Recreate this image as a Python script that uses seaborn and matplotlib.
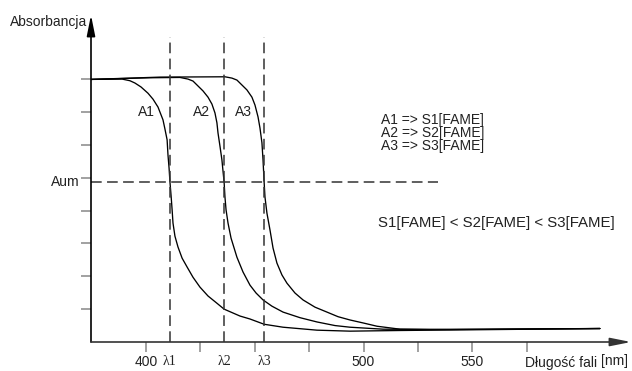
import matplotlib
matplotlib.use('Agg')
import matplotlib.pyplot as plt
import seaborn as sns
import pandas as pd

# curves: wavelength [nm] / absorbance (arbitrary units)
wl_a1 = [374.7, 389.0, 392.6, 394.9, 397.7, 400.9, 403.2, 405.5, 407.8, 408.7, 409.7,
         410.1, 410.6, 411.0, 411.5, 412.0, 412.4, 413.3, 414.7, 416.6, 418.9, 421.6,
         424.8, 428.5, 432.6, 435.9, 443.2, 447.8, 454.3, 463.0, 478.6, 493.8, 516.8,
         562.8, 608.7]
abs_a1 = [7.99, 8.00, 7.95, 7.88, 7.76, 7.57, 7.39, 7.15, 6.76, 6.48, 6.15,
          5.69, 5.29, 4.87, 4.47, 4.02, 3.62, 3.22, 2.89, 2.55, 2.28, 1.97,
          1.67, 1.40, 1.18, 1.00, 0.79, 0.70, 0.54, 0.45, 0.36, 0.33, 0.35,
          0.38, 0.41]

wl_a2 = [374.7, 401.8, 415.6, 419.3, 421.6, 423.9, 426.2, 428.5, 430.3, 431.7, 432.6,
         433.1, 434.0, 434.9, 435.4, 435.9, 436.3, 436.8, 437.7, 439.1, 441.8, 444.6,
         447.8, 450.6, 453.8, 457.9, 463.0, 470.8, 478.6, 486.9, 493.8, 509.0, 539.8,
         608.7]
abs_a2 = [7.99, 8.04, 8.05, 8.00, 7.94, 7.79, 7.64, 7.45, 7.24, 6.97, 6.67,
          6.36, 5.96, 5.54, 5.20, 4.87, 4.41, 4.02, 3.62, 3.16, 2.58, 2.13,
          1.73, 1.49, 1.28, 1.09, 0.91, 0.74, 0.61, 0.50, 0.45, 0.39, 0.38,
          0.41]

wl_a3 = [374.7, 406.4, 436.3, 439.5, 441.8, 444.1, 446.4, 448.7, 450.1, 451.5, 452.4,
         453.3, 453.8, 454.3, 454.7, 455.6, 457.0, 458.4, 460.2, 462.5, 464.8, 468.5,
         472.2, 477.7, 483.2, 488.3, 493.8, 499.8, 506.2, 516.8, 530.6, 608.7]
abs_a3 = [7.99, 8.06, 8.07, 8.03, 7.97, 7.82, 7.67, 7.45, 7.21, 6.85, 6.51,
          6.06, 5.54, 4.87, 4.41, 3.92, 3.41, 2.86, 2.40, 2.04, 1.79, 1.49,
          1.28, 1.06, 0.91, 0.77, 0.67, 0.58, 0.48, 0.39, 0.38, 0.41]

curve_names = ['A1', 'A2', 'A3']
lambda_lines = [411.0, 435.9, 454.3]
lambda_labels = ['λ1', 'λ2', 'λ3']
aum_level = 4.87
aum_end = 534.3
x_ticks = [400, 425, 450, 475, 500, 525, 550, 575]
x_tick_labels = ['400', '', '', '', '500', '', '550', '']
y_ticks = [1, 2, 3, 4, 5, 6, 7, 8]
assign_lines = ['A1 => S1[FAME]', 'A2 => S2[FAME]', 'A3 => S3[FAME]']
relation = 'S1[FAME] < S2[FAME] < S3[FAME]'

df = pd.concat([
    pd.DataFrame({'wl': w, 'A': a, 'curve': n})
    for w, a, n in zip([wl_a1, wl_a2, wl_a3], [abs_a1, abs_a2, abs_a3], curve_names)
])

sns.set_style('white')
plt.rcParams['font.family'] = ['Liberation Sans', 'DejaVu Sans']
plt.rcParams['font.size'] = 10

fig = plt.figure(figsize=(6.32, 3.71), dpi=100)
ax = fig.add_axes([91 / 632, 29 / 371, 540 / 632, 327 / 371])

sns.lineplot(data=df, x='wl', y='A', units='curve', estimator=None, sort=False,
             color='black', lw=0.95, ax=ax)

xmin, xmax = 374.7, 623.0
ax.set_xlim(xmin, xmax)
ax.set_ylim(0, 9.95)

# dashed guides
dash = dict(color='#333333', lw=1.1, linestyle=(0, (7, 3.5)))
ax.vlines(lambda_lines, 0, 9.28, **dash)
ax.hlines(aum_level, xmin, aum_end, **dash)

# axes with arrows
for s in ax.spines.values():
    s.set_visible(False)
ax.annotate('', xy=(0, 1), xytext=(0, 0), xycoords='axes fraction',
            arrowprops=dict(arrowstyle='-|>,head_length=1.25,head_width=0.25',
                            color='black', lw=1.2, shrinkA=0, shrinkB=0),
            annotation_clip=False)
ax.annotate('', xy=(1, 0), xytext=(0, 0), xycoords='axes fraction',
            arrowprops=dict(arrowstyle='-|>,head_length=1.25,head_width=0.25',
                            color='#333333', lw=1.2, shrinkA=0, shrinkB=0),
            annotation_clip=False)

ax.set_xticks(x_ticks)
ax.set_xticklabels(x_tick_labels)
ax.set_yticks(y_ticks)
ax.set_yticklabels([''] * len(y_ticks))
ax.tick_params(axis='both', direction='out', length=7, width=1.1, color='#888888',
               labelcolor='#222222', labelsize=10)
ax.tick_params(axis='x', pad=2, bottom=True)
ax.tick_params(axis='y', left=True)
ax.set_xlabel('')
ax.set_ylabel('')

xt = ax.get_xaxis_transform()
yt = ax.get_yaxis_transform()
for lam, lab in zip(lambda_lines, lambda_labels):
    ax.text(lam, -0.061, lab, transform=xt, ha='center', va='center',
            family=['Liberation Serif'], fontsize=10, color='#222222')
ax.text(590.8, -0.064, 'Długość fali', transform=xt, ha='center', va='center',
        fontsize=10, color='#222222')
ax.text(615.6, -0.058, '[nm]', transform=xt, ha='center', va='center',
        fontsize=10, color='#222222')

ax.text(-0.0074, 9.73, 'Absorbancja', transform=yt, ha='right', va='center',
        fontsize=10, color='#222222')
ax.text(-0.022, aum_level, 'Aum', transform=yt, ha='right', va='center',
        fontsize=10, color='#222222')

for x, name in zip([400.0, 425.3, 444.6], curve_names):
    ax.text(x, 6.99, name, ha='center', va='center', fontsize=10, color='#222222')

for y, line in zip([6.75, 6.36, 5.96], assign_lines):
    ax.text(508.0, y, line, ha='left', va='center', fontsize=10, color='#222222')
ax.text(506.7, 3.62, relation, ha='left', va='center', fontsize=10.8, color='#222222')

fig.savefig('out.png', dpi=100)
